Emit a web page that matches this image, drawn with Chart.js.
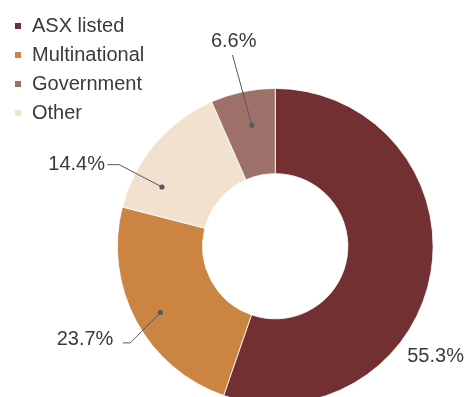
<!DOCTYPE html>
<html>
<head>
<meta charset="utf-8">
<script src="https://cdn.jsdelivr.net/npm/chart.js@4/dist/chart.umd.min.js"></script>
<style>
  html, body { margin: 0; padding: 0; background: #fff; }
  #wrap { width: 468px; height: 397px; overflow: hidden; position: relative; }
  #chart { display: block; }
</style>
</head>
<body>
<div id="wrap"><canvas id="chart" width="468" height="420"></canvas></div>
<script>
// slice order as drawn, clockwise from 12 o'clock
const categories = ['ASX listed', 'Multinational', 'Other', 'Government'];
const shares = [55.3, 23.7, 14.4, 6.6];
const sliceColors = ['#723032', '#cc8442', '#f3e1cf', '#9d706a'];
// legend reads in a different order than the slices
const legendOrder = ['ASX listed', 'Multinational', 'Government', 'Other'];

const TEXT = '#3a3a3a';
const LEADER = '#55585c';
const FONT = '20px "Liberation Sans", Arial, sans-serif';

// callouts: where the dot sits in the slice, and where the label goes from there
const CALLOUTS = {
  'ASX listed':    { dot: false, text: { dx: 132, dy: 115.5, align: 'left' } },
  'Multinational': { dot: true, frac: 0.48, rFrac: 0.84, path: [[-30, 30.4], [-37.7, 30.4]], text: { dx: -47, dy: 32.7, align: 'right' } },
  'Other':         { dot: true, frac: 0.255, rFrac: 0.81, path: [[-42.7, -22.3], [-54.7, -22.3]], text: { dx: -57, dy: -17, align: 'right' } },
  'Government':    { dot: true, frac: 0.54, rFrac: 0.78, path: [[-19.4, -70.3]], text: { dx: -18.2, dy: -78, align: 'center' } },
};

const overlay = {
  id: 'overlay',
  afterDraw(chart) {
    const ctx = chart.ctx;
    const meta = chart.getDatasetMeta(0);
    ctx.save();
    ctx.font = FONT;
    ctx.textBaseline = 'alphabetic';

    // legend
    legendOrder.forEach((name, i) => {
      const idx = categories.indexOf(name);
      const y = 26 + i * 29;
      ctx.fillStyle = sliceColors[idx];
      ctx.fillRect(15, y - 3, 6, 6);
      ctx.fillStyle = TEXT;
      ctx.textAlign = 'left';
      ctx.fillText(name, 32, y + 5.7);
    });

    // callouts
    categories.forEach((name, i) => {
      const c = CALLOUTS[name];
      const arc = meta.data[i];
      const { x: cx, y: cy, startAngle, endAngle, outerRadius } = arc.getProps(['x', 'y', 'startAngle', 'endAngle', 'outerRadius'], true);
      const label = shares[i].toFixed(1) + '%';
      let ax = cx, ay = cy;
      if (c.dot) {
        const a = startAngle + (endAngle - startAngle) * c.frac;
        ax = cx + Math.cos(a) * outerRadius * c.rFrac;
        ay = cy + Math.sin(a) * outerRadius * c.rFrac;
        ctx.strokeStyle = LEADER;
        ctx.lineWidth = 1;
        ctx.beginPath();
        ctx.moveTo(ax, ay);
        c.path.forEach(p => ctx.lineTo(ax + p[0], ay + p[1]));
        ctx.stroke();
        ctx.fillStyle = LEADER;
        ctx.beginPath();
        ctx.arc(ax, ay, 2.6, 0, Math.PI * 2);
        ctx.fill();
      }
      ctx.fillStyle = TEXT;
      ctx.textAlign = c.text.align;
      ctx.fillText(label, ax + c.text.dx, ay + c.text.dy);
    });
    ctx.restore();
  },
};

new Chart(document.getElementById('chart').getContext('2d'), {
  type: 'doughnut',
  data: {
    labels: categories,
    datasets: [{
      data: shares,
      backgroundColor: sliceColors,
      borderColor: '#ffffff',
      borderWidth: 0.8,
    }],
  },
  options: {
    responsive: false,
    animation: false,
    cutout: '46%',
    layout: { padding: { left: 117, right: 34.5, top: 88, bottom: 15.5 } },
    plugins: {
      legend: { display: false },
      tooltip: { enabled: false },
    },
  },
  plugins: [overlay],
});
</script>
</body>
</html>
